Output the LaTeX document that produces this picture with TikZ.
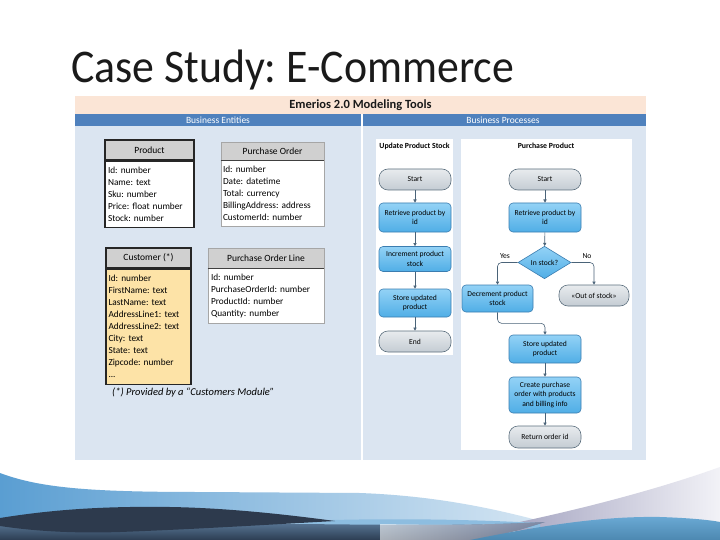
\documentclass[tikz,border=0pt]{standalone}
\usepackage{fontspec}
\setmainfont{Carlito}
\usetikzlibrary{shapes.geometric,arrows.meta,calc}
\frenchspacing
\hyphenpenalty=10000
\definecolor{peach}{HTML}{FBE5D6}
\definecolor{bandblue}{HTML}{4F81BD}
\definecolor{panelblue}{HTML}{DBE5F1}
\definecolor{hdrgray}{HTML}{D0D0D0}
\definecolor{custfill}{HTML}{FDE3A7}
\definecolor{procTop}{HTML}{93D2F6}
\definecolor{procBot}{HTML}{50AEE6}
\definecolor{procLine}{HTML}{3B7DB0}
\definecolor{termTop}{HTML}{E8EBEE}
\definecolor{termBot}{HTML}{C4CCD3}
\definecolor{termLine}{HTML}{5C6F7E}
\definecolor{arrowc}{HTML}{4A6378}
\definecolor{titlec}{HTML}{1A1A1A}
\definecolor{waveA}{HTML}{5A9ED2}
\definecolor{waveAr}{HTML}{D6E6F3}
\definecolor{navy}{HTML}{2D3A4D}
\definecolor{lavL}{HTML}{A6A6C2}
\definecolor{lavR}{HTML}{F2F2F7}
\definecolor{bandC}{HTML}{8DBDE0}
\definecolor{darkT}{HTML}{5A7897}
\definecolor{darkB}{HTML}{2C3D52}
\definecolor{waveE}{HTML}{5AA0D0}
\begin{document}
\begin{tikzpicture}[x=1pt,y=-1pt,
  ebox/.style={rectangle, inner sep=0pt, font=\fontsize{9.5}{12}\selectfont},
  thickb/.style={draw=black!85, line width=1.2pt},
  thinb/.style={draw=black!35, line width=0.6pt},
  ebody/.style={rectangle, fill=white, inner xsep=3pt, inner ysep=0pt, align=left, font=\fontsize{9.3}{12}\selectfont},
  proc/.style={rectangle, rounded corners=4pt, top color=procTop, bottom color=procBot, draw=procLine, line width=0.6pt, minimum width=72, inner sep=1pt, align=center, font=\fontsize{7.6}{9.5}\selectfont},
  term/.style={rectangle, rounded corners=9pt, top color=termTop, bottom color=termBot, draw=termLine, line width=0.6pt, minimum width=72, minimum height=21, inner sep=1pt, align=center, font=\fontsize{7.6}{9}\selectfont},
  arr/.style={-{Triangle[width=3.2pt,length=3.2pt]}, draw=arrowc, line width=0.6pt},
  lbl/.style={font=\fontsize{7.6}{8}\selectfont, inner sep=0pt},
  coltitle/.style={font=\bfseries\fontsize{7.8}{8}\selectfont, inner sep=0pt}
]
\useasboundingbox (0,0) rectangle (720,540);
\fill[white] (0,0) rectangle (720,540);

% ---------- title ----------
\node[anchor=base west, inner sep=0pt, text=titlec, font=\fontsize{43.8}{44}\selectfont] (title) at (71,83) {\scalebox{1}[1.07]{Case Study: E-Commerce}};

% ---------- main panel ----------
\fill[panelblue] (75,126) rectangle (646,460);
\fill[peach] (75,96) rectangle (646,114);
\fill[bandblue] (75,114) rectangle (361,126.5);
\fill[bandblue] (363,114) rectangle (646,126.5);
\draw[white, line width=1.2pt] (362,126) -- (362,460);
\node[font=\bfseries\fontsize{12.5}{14}\selectfont, text=titlec, inner sep=0pt] (hdr) at (360.5,105.5) {Emerios 2.0 Modeling Tools};
\node[font=\fontsize{9.5}{11}\selectfont, text=white, inner sep=0pt] (be) at (218,120.5) {Business Entities};
\node[font=\fontsize{9.5}{11}\selectfont, text=white, inner sep=0pt] (bp) at (503,120.5) {Business Processes};

% ---------- entities ----------
% Product
\node[ebox, thickb, fill=hdrgray, minimum width=89, minimum height=20] (prodh) at (149.5,150) {Product};
\node[ebody, thickb, minimum width=89, text width=83, inner xsep=3pt, minimum height=66, anchor=north] (prodb) at (prodh.south)
 {Id: number\\Name: text\\Sku: number\\Price: float number\\Stock: number};
\draw[black!85, line width=1.2pt] (prodh.south west) -- (prodh.south east);

% Purchase Order
\node[ebox, thinb, fill=hdrgray, minimum width=103, minimum height=18] (poh) at (272.5,151) {Purchase Order};
\node[ebody, thinb, minimum width=103, text width=99, inner xsep=2pt, minimum height=66, anchor=north] (pob) at (poh.south)
 {Id: number\\Date: datetime\\Total: currency\\BillingAddress: address\\CustomerId: number};
\draw[black!75, line width=1pt] (poh.south west) -- (poh.south east);

% Customer
\node[ebox, thickb, fill=hdrgray, minimum width=85, minimum height=20] (custh) at (148.5,258) {Customer (*)};
\node[ebody, thickb, fill=custfill, minimum width=85, text width=80, inner xsep=2.5pt, minimum height=115, anchor=north] (custb) at (custh.south)
 {Id: number\\FirstName: text\\LastName: text\\AddressLine1: text\\AddressLine2: text\\City: text\\State: text\\Zipcode: number\\...};
\draw[black!85, line width=1.2pt] (custh.south west) -- (custh.south east);

% Purchase Order Line
\node[ebox, thinb, fill=hdrgray, minimum width=116, minimum height=20] (polh) at (266,258) {Purchase Order Line};
\node[ebody, thinb, minimum width=116, text width=110, inner xsep=3pt, minimum height=55, anchor=north] (polb) at (polh.south)
 {Id: number\\PurchaseOrderId: number\\ProductId: number\\Quantity: number};
\draw[black!75, line width=1pt] (polh.south west) -- (polh.south east);

\node[anchor=west, inner sep=0pt, font=\itshape\fontsize{10.5}{12}\selectfont] (note) at (112,393) {(*) Provided by a “Customers Module”};

% ---------- process columns ----------
\fill[white] (376,139) rectangle (453,355);
\fill[white] (461,139) rectangle (632,450);
\node[coltitle] (t1) at (414.5,146) {Update Product Stock};
\node[coltitle] (t2) at (546,146) {Purchase Product};

% Update Product Stock
\node[term] (us) at (415,179.5) {Start};
\node[proc, minimum height=29] (ur) at (415,217.5) {Retrieve product by\\id};
\node[proc, minimum height=25] (ui) at (415,259) {Increment product\\stock};
\node[proc, minimum height=28] (ust) at (415,303) {Store updated\\product};
\node[term] (ue) at (415,341.5) {End};
\draw[arr] (us) -- (ur);
\draw[arr] (ur) -- (ui);
\draw[arr] (ui) -- (ust);
\draw[arr] (ust) -- (ue);

% Purchase Product
\node[term] (ps) at (545,179.5) {Start};
\node[proc, minimum height=29] (pr) at (545,217.5) {Retrieve product by\\id};
\node[diamond, top color=procTop, bottom color=procBot, draw=procLine, line width=0.6pt, minimum width=53, minimum height=29, inner sep=0pt, font=\fontsize{7.6}{8}\selectfont] (dia) at (544.5,262.5) {In stock?};
\node[proc, minimum width=71, minimum height=27] (dec) at (497.5,298.5) {Decrement product\\stock};
\node[term, minimum width=70] (oos) at (594,295.5) {«Out of stock»};
\node[proc, minimum height=28] (pst) at (545,349) {Store updated\\product};
\node[proc, minimum height=36] (pc) at (545,395) {Create purchase\\order with products\\and billing info};
\node[term, minimum height=22] (pret) at (545,437) {Return order id};
\node[lbl] (yes) at (505,256) {Yes};
\node[lbl] (no) at (587,256) {No};
\draw[arr] (ps) -- (pr);
\draw[arr] (pr) -- (dia);
\draw[arr, rounded corners=4pt] (dia.west) -| (dec.north);
\draw[arr, rounded corners=4pt] (dia.east) -| (oos.north);
\draw[arr, rounded corners=4pt] (dec.south) -- ++(0,11) -| (pst.north);
\draw[arr] (pst) -- (pc);
\draw[arr] (pc) -- (pret);

% ---------- footer waves ----------
\shade[left color=waveA, right color=waveAr] (0,473) .. controls (40,488) and (90,492) .. (200,492) -- (360,493) .. controls (440,496) and (500,510) .. (548,523) -- (548,540) -- (0,540) -- cycle;
\shade[left color=lavL, right color=lavR] (515,523) .. controls (600,505) and (670,485) .. (720,467) -- (720,540) -- (515,540) -- cycle;
\fill[bandC] (300,521) .. controls (380,518) and (460,519) .. (540,523) -- (540,528) -- (300,528) -- cycle;
\shade[top color=darkT, bottom color=darkB] (0,524) -- (300,524) .. controls (400,525) and (470,526) .. (545,522) .. controls (520,530) and (500,535) .. (480,540) -- (0,540) -- cycle;
\shade[left color=darkB!0, right color=lavL!90!black, opacity=0.6] (380,524) .. controls (440,525) and (490,525) .. (545,522) .. controls (520,530) and (500,535) .. (480,540) -- (380,540) -- cycle;
\shade[top color=waveE!90!white, bottom color=waveE!85!black] (470,540) .. controls (540,526) and (600,516) .. (660,517) .. controls (690,518) and (710,520) .. (720,522) -- (720,540) -- cycle;
\fill[navy] (0,518) .. controls (50,510) and (100,506) .. (170,507) .. controls (230,508) and (290,515) .. (335,521) .. controls (280,524) and (200,529) .. (120,532) .. controls (60,534) and (20,529) .. (0,526) -- cycle;
\end{tikzpicture}
\end{document}
